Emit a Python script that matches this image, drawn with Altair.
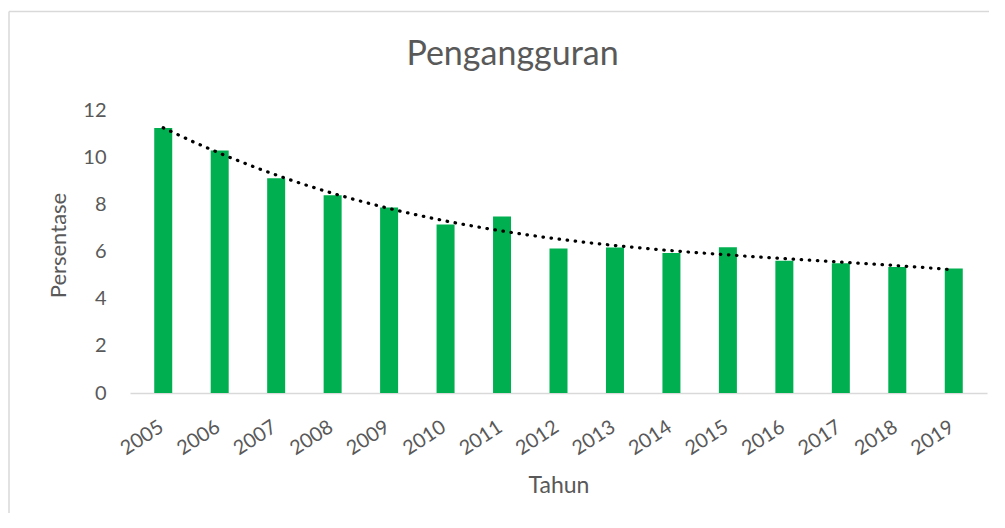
import altair as alt
import pandas as pd

years = [2005, 2006, 2007, 2008, 2009, 2010, 2011, 2012, 2013, 2014, 2015, 2016, 2017, 2018, 2019]
values = [11.24, 10.28, 9.11, 8.39, 7.87, 7.14, 7.48, 6.13, 6.17, 5.94, 6.18, 5.61, 5.50, 5.34, 5.28]
y_ticks = [0, 2, 4, 6, 8, 10, 12]

df = pd.DataFrame({"Tahun": years, "Persentase": values})

W, H = 857, 283
FONT = "Lato"
TXT = "#595959"

x_enc = alt.X(
    "Tahun:Q",
    scale=alt.Scale(domain=[2004.5, 2019.5], nice=False, zero=False),
    axis=alt.Axis(
        values=years, format="d", labelAngle=-33, labelAlign="right", labelBaseline="middle",
        labelPadding=32, labelOffset=-2, ticks=False, tickSize=0, grid=False,
        domainColor="#d9d9d9", domainWidth=1.5,
        labelFont=FONT, labelFontSize=20, labelColor=TXT,
        title="Tahun", titleFont=FONT, titleFontSize=23, titleColor=TXT, titleFontWeight="normal",
        titleBaseline="alphabetic", titleY=99, titleX=W / 2,
    ),
)
y_enc = alt.Y(
    "Persentase:Q",
    scale=alt.Scale(domain=[0, 12], nice=False),
    axis=alt.Axis(
        values=y_ticks, ticks=False, tickSize=0, grid=False, domain=False, labelPadding=24,
        labelFont=FONT, labelFontSize=20, labelColor=TXT,
        title="Persentase", titleFont=FONT, titleFontSize=22, titleColor=TXT, titleFontWeight="normal",
        titleAngle=-90, titleBaseline="alphabetic", titleAlign="center", titleX=-65, titleY=135,
    ),
)

bars = alt.Chart(df).mark_bar(color="#00B050", size=18).encode(x=x_enc, y=y_enc)

trend = (
    alt.Chart(df)
    .transform_calculate(idx="datum.Tahun - 2004")
    .transform_regression("idx", "Persentase", method="poly", order=3)
    .transform_calculate(Tahun="datum.idx + 2004")
    .mark_line(color="black", strokeDash=[0.5, 7.6], strokeCap="round", strokeWidth=3.2)
    .encode(x="Tahun:Q", y="Persentase:Q")
)

frame_df = pd.DataFrame({"k": [0]})
frame_top = alt.Chart(frame_df).mark_rule(color="#d9d9d9", strokeWidth=1.5).encode(
    x=alt.value(-121), x2=alt.value(W + 2), y=alt.value(-98.5)
)
frame_left = alt.Chart(frame_df).mark_rule(color="#d9d9d9", strokeWidth=1.5).encode(
    x=alt.value(-121), y=alt.value(-98.5), y2=alt.value(H + 120)
)

chart = (
    alt.layer(frame_top, frame_left, bars, trend)
    .properties(
        width=W,
        height=H,
        autosize=alt.AutoSizeParams(type="none"),
        padding={"left": 122, "top": 102, "right": 2, "bottom": 120},
        title=alt.TitleParams(
            "Pengangguran", font=FONT, fontSize=34, color=TXT, fontWeight="normal",
            anchor="middle", dx=-46, baseline="alphabetic", offset=-88,
        ),
    )
    .configure_view(stroke=None)
)

chart.save("out.html", embed_options={"renderer": "svg", "actions": False})
